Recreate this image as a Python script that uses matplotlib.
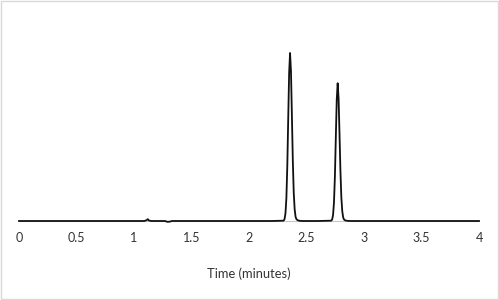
import matplotlib
matplotlib.use("Agg")
import matplotlib.pyplot as plt
from matplotlib.patches import Rectangle

# Chromatogram trace (time in minutes, relative signal)
time_min = [0.00, 0.60, 1.09, 1.11, 1.12, 1.13, 1.15, 1.27, 1.29, 1.31, 1.33, 1.36,
            2.200, 2.301, 2.309, 2.317, 2.325, 2.333, 2.341, 2.349, 2.357, 2.365, 2.373,
            2.381, 2.389, 2.397, 2.405, 2.413, 2.425, 2.440, 2.470,
            2.600, 2.715, 2.723, 2.731, 2.739, 2.747, 2.755, 2.763, 2.771, 2.779, 2.787,
            2.795, 2.803, 2.811, 2.819, 2.827, 2.839, 2.855, 2.885,
            3.300, 4.00]
signal = [0.0, 0.0, 0.0, 0.5, 1.1, 0.3, 0.0, 0.0, -0.5, -0.4, 0.0, 0.0,
          0.0, 0.2, 1.1, 4.4, 13.5, 32.5, 60.7, 88.2, 100.0, 89.0, 63.0,
          36.0, 17.0, 7.0, 2.5, 1.0, 0.4, 0.1, 0.0,
          0.0, 0.2, 0.9, 3.6, 11.1, 26.6, 49.8, 72.3, 82.0, 73.0, 52.0,
          30.0, 14.0, 5.8, 2.1, 0.8, 0.3, 0.1, 0.0,
          0.0, 0.0]
x_ticks = [0, 0.5, 1, 1.5, 2, 2.5, 3, 3.5, 4]
x_tick_labels = ["0", "0.5", "1", "1.5", "2", "2.5", "3", "3.5", "4"]
x_label = "Time (minutes)"

plt.rcParams['font.family'] = ['Lato', 'DejaVu Sans']

fig = plt.figure(figsize=(4.99, 3.0), dpi=100)
ax = fig.add_axes([19/499, (300-221)/300, 460/499, 206/300])

ax.plot(time_min, signal, color="#111111", lw=1.3, solid_joinstyle="round",
        zorder=3, clip_on=False)
ax.set_xlim(0, 4)
ax.set_ylim(0, 100 * 206 / 168)

for s in ["top", "right", "left"]:
    ax.spines[s].set_visible(False)
ax.spines["bottom"].set_color("#c8c8c8")
ax.spines["bottom"].set_linewidth(0.8)
ax.set_yticks([])
ax.set_xticks(x_ticks)
ax.set_xticklabels(x_tick_labels, fontsize=9, color="#333333")
ax.tick_params(axis="x", length=0, pad=8)
ax.set_xlabel(x_label, fontsize=9.3, color="#333333", labelpad=17)

fig.patches.append(Rectangle((0.002, 0.003), 0.996, 0.994, transform=fig.transFigure,
                             fill=False, edgecolor="#d9d9d9", lw=1.0))

fig.savefig("out.png", dpi=100)
